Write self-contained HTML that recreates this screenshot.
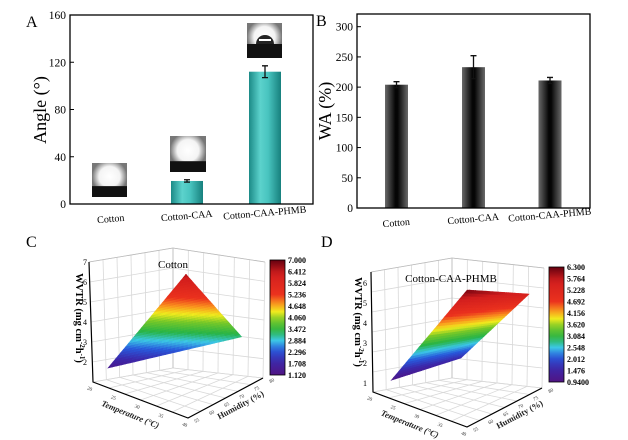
<!DOCTYPE html>
<html><head><meta charset="utf-8"><style>
html,body{margin:0;padding:0;background:#fff;}
svg{display:block;font-family:"Liberation Serif",serif;}
</style></head><body>
<svg id="fig" width="628" height="440" viewBox="0 0 628 440" xmlns="http://www.w3.org/2000/svg">
<defs>
<linearGradient id="teal" x1="0" x2="1" y1="0" y2="0">
<stop offset="0" stop-color="#1b8a87"/><stop offset="0.35" stop-color="#5cd2cc"/><stop offset="0.6" stop-color="#48c4bf"/><stop offset="1" stop-color="#17807d"/></linearGradient>
<linearGradient id="dark" x1="0" x2="1" y1="0" y2="0">
<stop offset="0" stop-color="#6a6a6a"/><stop offset="0.45" stop-color="#050505"/><stop offset="0.55" stop-color="#050505"/><stop offset="1" stop-color="#6a6a6a"/></linearGradient>
<radialGradient id="glow" cx="0.5" cy="0.4" r="0.5"><stop offset="0" stop-color="#fff"/><stop offset="0.6" stop-color="#f4f4f4"/><stop offset="1" stop-color="#777"/></radialGradient>
<linearGradient id="cbar" x1="0" x2="0" y1="1" y2="0"></linearGradient>
</defs>
<g id="pa"></g>
<g id="pb"></g>
<g id="pc"></g>
<g id="pd"></g>
</svg>
<script>
// Panel A data
const aCategories = ["Cotton", "Cotton-CAA", "Cotton-CAA-PHMB"];
const aValues = [0, 19.5, 112];
const aErrors = [0, 1, 5];
const aTicks = [0, 40, 80, 120, 160];
// Panel B data
const bCategories = ["Cotton", "Cotton-CAA", "Cotton-CAA-PHMB"];
const bValues = [204, 233, 211];
const bErrors = [5, 19, 5];
const bTicks = [0, 50, 100, 150, 200, 250, 300];
// Panel C surface (temperature °C, humidity %, WVTR)
const cTemps = [20, 38, 32, 32];
const cHums = [60, 76, 67, 67];
const cWvtr = [1.3, 3.2, 6.5, 6.5];
const cBarTicks = ["7.000","6.412","5.824","5.236","4.648","4.060","3.472","2.884","2.296","1.708","1.120"];
const cZTicks = [2, 3, 4, 5, 6, 7];
// Panel D surface
const dTemps = [21.6, 27.8, 39.6, 34.3];
const dHums = [58.6, 72.1, 76.3, 64];
const dWvtr = [1.0, 1.6, 5.5, 6.2];
const dBarTicks = ["6.300","5.764","5.228","4.692","4.156","3.620","3.084","2.548","2.012","1.476","0.9400"];
const dZTicks = [1, 2, 3, 4, 5, 6];
const tTicks = [20, 25, 30, 35, 40];
const hTicks = [55, 60, 65, 70, 75, 80];

const NS = "http://www.w3.org/2000/svg";
function mk(parent, tag, attrs, text) {
  const e = document.createElementNS(NS, tag);
  for (const k in attrs) e.setAttribute(k, attrs[k]);
  if (text !== undefined) e.textContent = text;
  parent.appendChild(e);
  return e;
}
const cmapStops = [[0,[80,20,130]],[0.12,[60,40,170]],[0.22,[40,90,220]],[0.3,[60,200,230]],[0.38,[40,180,70]],[0.48,[120,200,40]],[0.55,[240,235,30]],[0.62,[250,150,30]],[0.7,[235,50,30]],[0.88,[210,30,30]],[1,[100,0,15]]];
function cmap(f) {
  f = Math.max(0, Math.min(1, f));
  for (let i = 1; i < cmapStops.length; i++) {
    if (f <= cmapStops[i][0]) {
      const a = cmapStops[i-1], b = cmapStops[i], t = (f - a[0]) / (b[0] - a[0]);
      const c = a[1].map((v, j) => Math.round(v + (b[1][j] - v) * t));
      return "rgb(" + c.join(",") + ")";
    }
  }
  return "rgb(100,0,15)";
}
const cg = document.getElementById("cbar");
for (let i = 0; i <= 20; i++) mk(cg, "stop", {offset: i/20, "stop-color": cmap(i/20)});

function barPanel(g, cats, vals, errs, ticks, box, ymax, fill, ylabel, letter, centers, bw, labelY) {
  const ys = v => box.b - (v / ymax) * (box.b - box.t);
  ticks.forEach(t => {
    const tl = mk(g, "line", {x1: box.l, x2: box.l + 4, y1: ys(t), y2: ys(t), stroke: "#000"});
    
    
    const tx = mk(g, "text", {x: box.l - 4, y: ys(t) + 4, "text-anchor": "end", "font-size": 11.5}, t);
    
    
  });
  cats.forEach((c, i) => {
    const cx = centers[i];
    if (vals[i] > 0) {
      const r = mk(g, "rect", {x: cx - bw/2, y: ys(vals[i]), width: bw, height: box.b - ys(vals[i]), fill: fill});
      
      
      const e = mk(g, "path", {d: `M${cx},${ys(vals[i]-errs[i])}V${ys(vals[i]+errs[i])}M${cx-3},${ys(vals[i]+errs[i])}h6M${cx-3},${ys(vals[i]-errs[i])}h6`, stroke: "#111", "stroke-width": 1.3, fill: "none"});
      
      
    }
    const lx = mk(g, "text", {x: cx, y: labelY[i], "text-anchor": "middle", "font-size": 10, transform: `rotate(-5 ${cx} ${labelY[i]})`}, c);
    
    
  });
  const fr = mk(g, "rect", {x: box.l, y: box.t, width: box.r - box.l, height: box.b - box.t, fill: "none", stroke: "#000", "stroke-width": 1.3});
  
  
  const yl = mk(g, "text", {x: 0, y: 0, "text-anchor": "middle", "font-size": 18, transform: `translate(${ylabel[1]},${ylabel[2]}) rotate(-90)`}, ylabel[0]);
  
  
  const lt = mk(g, "text", {x: letter[1], y: letter[2], "font-size": 16}, letter[0]);
  
  
}
barPanel(document.getElementById("pa"), aCategories, aValues, aErrors, aTicks, {l:70,t:15,r:313,b:204}, 160, "url(#teal)", ["Angle (°)", 46, 110], ["A", 26, 27], [111,187,265], 32, [222,219,216]);
barPanel(document.getElementById("pb"), bCategories, bValues, bErrors, bTicks, {l:357,t:14,r:590,b:208}, 321, "url(#dark)", ["WA (%)", 331, 111], ["B", 316, 26], [396.5,473.5,550], 23, [226,222,218]);

const pa = document.getElementById("pa");
[[92,163,35,34,0.68],[170,136,36,36,0.7],[247,23,35,35,0.6]].forEach((b, i) => {
  const ig = mk(pa, "g", {});
  
  
  mk(ig, "rect", {x: b[0], y: b[1], width: b[2], height: b[3], fill: "url(#glow)"});
  mk(ig, "rect", {x: b[0], y: b[1] + b[3]*b[4], width: b[2], height: b[3]*(1-b[4]), fill: "#111"});
  if (i === 2) {
    mk(ig, "path", {d: `M${b[0]+9},${b[1]+21} a9,9 0 0 1 18,0 z`, fill: "#222"});
    mk(ig, "rect", {x: b[0]+12, y: b[1]+16, width: 12, height: 2, fill: "#fff"});
  }
});

function surfPanel(g, o) {
  const P = (T, H, Z) => [o.F[0] + (40 - T)/20*o.vT[0] + (H - 55)/25*o.vH[0],
                          o.F[1] + (40 - T)/20*o.vT[1] + (H - 55)/25*o.vH[1] - (Z - o.zb)*20];
  const grid = "#d8d8d8";
  const wl = mk(g, "g", {stroke: grid, "stroke-width": 0.8, fill: "none"});
  
  
  const [BL, BLt, B, Bt, R, Rt, F] = [o.BL, o.BLt, o.B, o.Bt, o.R, o.Rt, o.F];
  const lerp = (a, b, t) => [a[0] + (b[0]-a[0])*t, a[1] + (b[1]-a[1])*t];
  for (let i = 0; i <= 6; i++) {
    const t = i/6;
    let p = lerp(BL, BLt, t), q = lerp(B, Bt, t), r = lerp(R, Rt, t);
    mk(wl, "path", {d: `M${p}L${q}L${r}`});
    p = lerp(BL, B, t); q = lerp(BLt, Bt, t);
    mk(wl, "path", {d: `M${p}L${q}`});
    p = lerp(B, R, t); q = lerp(Bt, Rt, t);
    mk(wl, "path", {d: `M${p}L${q}`});
    p = lerp(BL, F, t); q = lerp(B, R, t);
    mk(wl, "path", {d: `M${p}L${q}`});
    p = lerp(F, R, t); q = lerp(BL, B, t);
    mk(wl, "path", {d: `M${p}L${q}`});
  }
  mk(wl, "path", {d: `M${BLt}L${Bt}L${Rt}M${B}L${Bt}`, stroke: "#bbb"});
  const ax = mk(g, "path", {d: `M${BLt}L${BL}L${F}L${R}`, stroke: "#000", "stroke-width": 1.2, fill: "none"});
  
  
  o.zTicks.forEach(z => {
    const y = BL[1] - (z - o.zb)*20;
    const t = mk(g, "text", {x: BL[0] - 6, y: y + 3, "text-anchor": "end", "font-size": 8}, z);
    
    
  });
  tTicks.forEach((t, i) => {
    const p = lerp(BL, F, i/4);
    const e = mk(g, "text", {x: p[0] - 3, y: p[1] + 9, "font-size": 5, fill: "#333", transform: `rotate(22 ${p[0]} ${p[1]})`}, t);
    
    
  });
  hTicks.forEach((h, i) => {
    const p = lerp(F, R, i/5);
    const e = mk(g, "text", {x: p[0] + 4, y: p[1] + 8, "font-size": 5, fill: "#333", transform: `rotate(-28 ${p[0]} ${p[1]})`}, h);
    
    
  });
  const tm = lerp(BL, F, 0.5);
  const tt = mk(g, "text", {x: tm[0] - 4, y: tm[1] + 20, "text-anchor": "middle", "font-size": 8.5, "font-style": "italic", "font-weight": "bold", fill: "#222", transform: `rotate(22 ${tm[0]} ${tm[1]})`}, "Temperature (°C)");
  
  
  const hm = lerp(F, R, 0.5);
  const ht = mk(g, "text", {x: hm[0] + 10, y: hm[1] + 16, "text-anchor": "middle", "font-size": 8.5, "font-weight": "bold", fill: "#222", transform: `rotate(-28 ${hm[0]} ${hm[1]})`}, "Humidity (%)");
  
  
  const zt = mk(g, "text", {x: 0, y: 0, "text-anchor": "middle", "font-size": 10.5, "font-weight": "bold", transform: `translate(${o.zl[0]},${o.zl[1]}) rotate(90)`}, "WVTR (mg cm");
  
  
  mk(zt, "tspan", {"baseline-shift": "super", "font-size": 7}, "-2");
  mk(zt, "tspan", {}, "h");
  mk(zt, "tspan", {"baseline-shift": "super", "font-size": 7}, "-1");
  mk(zt, "tspan", {}, ")");
  const sg = mk(g, "g", {});
  
  
  const T = o.T, Hh = o.H, Z = o.Z, N = 30;
  const bil = (arr, u, v) => arr[0]*(1-u)*(1-v) + arr[1]*u*(1-v) + arr[2]*u*v + arr[3]*(1-u)*v;
  const pt = (u, v) => P(bil(T,u,v), bil(Hh,u,v), bil(Z,u,v));
  for (let i = 0; i < N; i++) for (let j = 0; j < N; j++) {
    const u0 = i/N, u1 = (i+1)/N, v0 = j/N, v1 = (j+1)/N;
    const z = bil(Z, (u0+u1)/2, (v0+v1)/2);
    const col = cmap((z - o.zmin) / (o.zmax - o.zmin));
    const pts = [pt(u0,v0), pt(u1,v0), pt(u1,v1), pt(u0,v1)].map(p => p.map(n => n.toFixed(1)).join(",")).join(" ");
    mk(sg, "polygon", {points: pts, fill: col, stroke: col, "stroke-width": 0.6});
  }
  const cb = mk(g, "rect", {x: o.cb[0], y: o.cb[1], width: 15, height: o.cb[2] - o.cb[1], fill: "url(#cbar)", stroke: "#000", "stroke-width": 0.8});
  
  
  o.barTicks.forEach((t, i) => {
    const y = o.cb[1] + (o.cb[2] - o.cb[1]) * i / (o.barTicks.length - 1);
    const e = mk(g, "text", {x: o.cb[0] + 18, y: y + 3, "font-size": 8, "font-weight": "bold"}, t);
    
    
  });
  const ti = mk(g, "text", {x: o.title[1], y: o.title[2], "text-anchor": "middle", "font-size": 11}, o.title[0]);
  
  
  const lt = mk(g, "text", {x: o.letter[1], y: o.letter[2], "font-size": 16}, o.letter[0]);
  
  
}
surfPanel(document.getElementById("pc"), {
  F: [188,418], vT: [-95,-36], vH: [75,-40], zb: 1,
  BL: [93,382], BLt: [89,262], B: [173,368], Bt: [173,248], R: [263,378], Rt: [265,262],
  T: cTemps, H: cHums, Z: cWvtr, zmin: 1.12, zmax: 7.0, zTicks: cZTicks, barTicks: cBarTicks,
  cb: [270,260,375], title: ["Cotton",173,268], letter: ["C",26,247], zl: [76,318]
});
surfPanel(document.getElementById("pd"), {
  F: [467,427], vT: [-94,-35], vH: [75,-39], zb: 0.55,
  BL: [373,392], BLt: [371,272], B: [452,378], Bt: [452,258], R: [542,388], Rt: [544,268],
  T: dTemps, H: dHums, Z: dWvtr, zmin: 0.94, zmax: 6.3, zTicks: dZTicks, barTicks: dBarTicks,
  cb: [549,267,382], title: ["Cotton-CAA-PHMB",451,282], letter: ["D",321,247], zl: [355,322]
});
</script>
</body></html>
